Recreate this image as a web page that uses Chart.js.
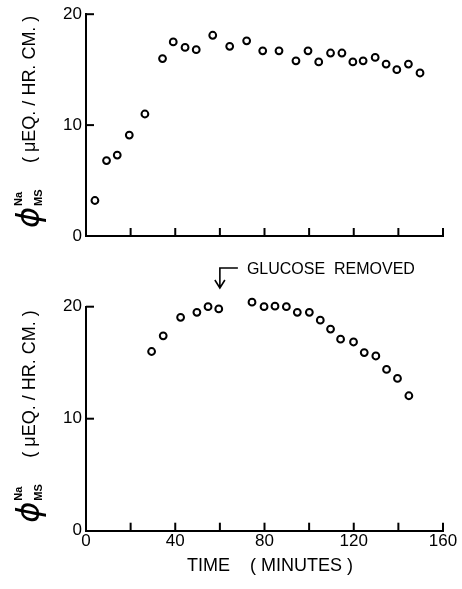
<!DOCTYPE html>
<html>
<head>
<meta charset="utf-8">
<script src="https://cdn.jsdelivr.net/npm/chart.js@4.4.0/dist/chart.umd.min.js"></script>
<style>
  html, body { margin: 0; padding: 0; background: #fff; }
  #wrap { position: relative; width: 462px; height: 589px; }
  canvas { position: absolute; left: 0; }
</style>
</head>
<body>
<div id="wrap">
  <canvas id="topChart" width="462" height="260" style="top:0px"></canvas>
  <canvas id="bottomChart" width="462" height="329" style="top:260px"></canvas>
</div>
<script>
// upper panel: flux with glucose present
const topTime = [4.0, 9.2, 14.0, 19.4, 26.4, 34.3, 39.1, 44.4, 49.4, 56.8, 64.4, 72.0, 79.2,
                 86.5, 94.1, 99.5, 104.3, 109.6, 114.7, 119.6, 124.2, 129.6, 134.5, 139.3, 144.5, 149.7];
const topFlux = [3.2, 6.8, 7.3, 9.1, 11.0, 16.0, 17.5, 17.0, 16.8, 18.1, 17.1, 17.6, 16.7,
                 16.7, 15.8, 16.7, 15.7, 16.5, 16.5, 15.7, 15.8, 16.1, 15.5, 15.0, 15.5, 14.7];

// lower panel: glucose removed at 60 min
const bottomTime = [29.4, 34.6, 42.4, 49.7, 54.7, 59.5, 69.5, 74.4, 79.8, 84.7, 89.8,
                    94.7, 100.1, 105.0, 109.6, 114.1, 119.9, 124.7, 129.9, 134.7, 139.6, 144.7];
const bottomFlux = [16.0, 17.4, 19.05, 19.5, 20.0, 19.8, 20.6, 20.4, 20.0, 20.05, 20.0,
                    19.5, 19.5, 18.8, 18.0, 17.1, 16.85, 15.9, 15.6, 14.4, 13.6, 12.05];

const xTicks = [0, 20, 40, 60, 80, 100, 120, 140, 160];
const xLabels = ['0', '', '40', '', '80', '', '120', '', '160'];
const yTicks = [0, 10, 20];
const removedAt = 60;
const noteText = 'GLUCOSE  REMOVED';
const yTitle = '( \u03BCEQ. / HR. CM. )';
const xTitle = 'TIME';
const xTitle2 = '( MINUTES )';

const FONT = '"Liberation Sans", Arial, sans-serif';

// draws inward ticks, y title and the extra labels
const extras = {
  id: 'extras',
  afterDraw(chart, args, opts) {
    const ctx = chart.ctx;
    const xs = chart.scales.x, ys = chart.scales.y;
    ctx.save();
    ctx.strokeStyle = '#000';
    ctx.fillStyle = '#000';
    ctx.lineWidth = 2;

    xTicks.forEach(v => {
      if (v === 0) return;
      const px = xs.getPixelForValue(v);
      ctx.beginPath();
      ctx.moveTo(px, ys.bottom);
      ctx.lineTo(px, ys.bottom - 8);
      ctx.stroke();
    });
    yTicks.forEach(v => {
      if (v === 0) return;
      const py = ys.getPixelForValue(v);
      ctx.beginPath();
      ctx.moveTo(xs.left, py);
      ctx.lineTo(xs.left + 8, py);
      ctx.stroke();
    });

    // rotated y title
    ctx.save();
    const y0 = ys.getPixelForValue(0);
    ctx.translate(30, y0);
    ctx.rotate(-Math.PI / 2);
    ctx.textAlign = 'left';
    ctx.textBaseline = 'middle';
    ctx.font = 'italic 32px "DejaVu Sans", sans-serif';
    ctx.fillText('\u03D5', 8, 1);
    ctx.font = 'bold 11px ' + FONT;
    ctx.fillText('Na', 30, -11);
    ctx.fillText('MS', 30, 9);
    ctx.font = '18px ' + FONT;
    ctx.fillText(yTitle, 73, 0);
    ctx.restore();

    if (opts.showX) {
      ctx.font = '18px ' + FONT;
      ctx.textAlign = 'left';
      ctx.textBaseline = 'middle';
      const ty = ys.bottom + 35;
      ctx.fillText(xTitle, 187, ty);
      ctx.fillText(xTitle2, 250, ty);
    }

    if (opts.note) {
      const ax = xs.getPixelForValue(removedAt);
      ctx.lineWidth = 1.6;
      ctx.beginPath();
      ctx.moveTo(ax + 18, 8);
      ctx.lineTo(ax, 8);
      ctx.lineTo(ax, 28);
      ctx.moveTo(ax - 5, 20);
      ctx.lineTo(ax, 28);
      ctx.lineTo(ax + 5, 20);
      ctx.stroke();
      ctx.font = '16px ' + FONT;
      ctx.textAlign = 'left';
      ctx.textBaseline = 'middle';
      ctx.fillText(noteText, ax + 27, 10);
    }
    ctx.restore();
  }
};

function makeChart(id, times, flux, opts) {
  const points = times.map((t, i) => ({ x: t, y: flux[i] }));
  return new Chart(document.getElementById(id), {
    type: 'scatter',
    data: {
      datasets: [{
        data: points,
        pointRadius: 3.4,
        pointBorderWidth: 2,
        pointBorderColor: '#000',
        pointBackgroundColor: '#fff',
        clip: false
      }]
    },
    options: {
      responsive: false,
      animation: false,
      devicePixelRatio: 1,
      layout: { padding: { top: opts.top, right: 19, left: 0, bottom: 0 } },
      plugins: {
        legend: { display: false },
        tooltip: { enabled: false },
        extras: { showX: opts.showX, note: opts.note }
      },
      scales: {
        x: {
          type: 'linear',
          min: 0,
          max: 160,
          afterBuildTicks: s => { s.ticks = xTicks.map(v => ({ value: v })); },
          afterFit: s => { s.height = opts.xh; },
          grid: { drawOnChartArea: false, drawTicks: false },
          border: { color: '#000', width: 2 },
          ticks: {
            display: opts.showX,
            autoSkip: false,
            padding: 0,
            color: '#000',
            font: { family: FONT, size: 17 },
            maxRotation: 0,
            callback: (v, i) => xLabels[i]
          }
        },
        y: {
          min: 0,
          max: 20,
          afterBuildTicks: s => { s.ticks = yTicks.map(v => ({ value: v })); },
          afterFit: s => { s.width = 86; },
          grid: { drawOnChartArea: false, drawTicks: false },
          border: { color: '#000', width: 2 },
          ticks: {
            padding: 4,
            color: '#000',
            font: { family: FONT, size: 17 }
          }
        }
      }
    },
    plugins: [extras]
  });
}

makeChart('topChart', topTime, topFlux, { top: 11.7, xh: 24, showX: false, note: false });
makeChart('bottomChart', bottomTime, bottomFlux, { top: 46.7, xh: 58.3, showX: true, note: true });
</script>
</body>
</html>
